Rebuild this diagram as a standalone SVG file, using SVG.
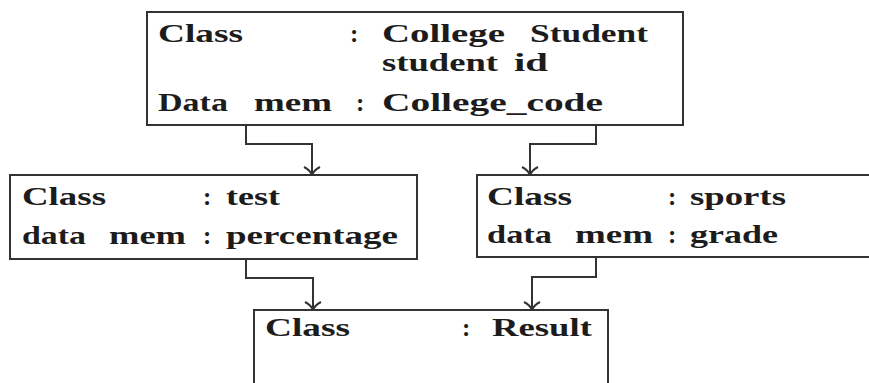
<svg xmlns="http://www.w3.org/2000/svg" width="869" height="383" viewBox="0 0 869 383">
<defs>
<style>
.box{fill:none;stroke:#333;stroke-width:2}
.t{font-family:"Liberation Serif","Times New Roman",serif;font-weight:bold;font-size:25px;fill:#1c1c1c}
.c{fill:none;stroke:#333;stroke-width:2}
</style>
<marker id="arr" viewBox="0 0 10 20" refX="9" refY="10" markerWidth="10" markerHeight="20" markerUnits="userSpaceOnUse" orient="auto">
<path d="M1,2 Q4,8 9,10 Q4,12 1,18" fill="none" stroke="#333" stroke-width="2"/>
</marker>
</defs>
<rect width="869" height="383" fill="#ffffff"/>
<g id="college-student">
<rect class="box" x="147" y="12" width="536" height="113"/>
<text class="t" x="158" y="42" textLength="85" lengthAdjust="spacingAndGlyphs">Class</text>
<text class="t" x="350" y="42">:</text>
<text class="t" x="382" y="42" textLength="123" lengthAdjust="spacingAndGlyphs">College</text>
<text class="t" x="530" y="42" textLength="118" lengthAdjust="spacingAndGlyphs">Student</text>
<text class="t" x="382" y="71" textLength="116" lengthAdjust="spacingAndGlyphs">student</text>
<text class="t" x="514" y="71" textLength="34" lengthAdjust="spacingAndGlyphs">id</text>
<text class="t" x="158" y="111" textLength="70" lengthAdjust="spacingAndGlyphs">Data</text>
<text class="t" x="254" y="111" textLength="78" lengthAdjust="spacingAndGlyphs">mem</text>
<text class="t" x="356" y="111">:</text>
<text class="t" x="382" y="111" textLength="221" lengthAdjust="spacingAndGlyphs">College_code</text>
</g>
<g id="test">
<rect class="box" x="10" y="175" width="407" height="84"/>
<text class="t" x="22" y="205" textLength="84" lengthAdjust="spacingAndGlyphs">Class</text>
<text class="t" x="203" y="205">:</text>
<text class="t" x="226" y="205" textLength="54" lengthAdjust="spacingAndGlyphs">test</text>
<text class="t" x="22" y="244" textLength="64" lengthAdjust="spacingAndGlyphs">data</text>
<text class="t" x="109" y="244" textLength="77" lengthAdjust="spacingAndGlyphs">mem</text>
<text class="t" x="203" y="244">:</text>
<text class="t" x="226" y="244" textLength="172" lengthAdjust="spacingAndGlyphs">percentage</text>
</g>
<g id="sports">
<rect class="box" x="477" y="175" width="410" height="82"/>
<text class="t" x="487" y="205" textLength="85" lengthAdjust="spacingAndGlyphs">Class</text>
<text class="t" x="668" y="205">:</text>
<text class="t" x="690" y="205" textLength="96" lengthAdjust="spacingAndGlyphs">sports</text>
<text class="t" x="487" y="243" textLength="65" lengthAdjust="spacingAndGlyphs">data</text>
<text class="t" x="575" y="243" textLength="78" lengthAdjust="spacingAndGlyphs">mem</text>
<text class="t" x="668" y="243">:</text>
<text class="t" x="690" y="243" textLength="88" lengthAdjust="spacingAndGlyphs">grade</text>
</g>
<g id="result">
<rect class="box" x="254" y="310" width="354" height="90"/>
<text class="t" x="265" y="336" textLength="85" lengthAdjust="spacingAndGlyphs">Class</text>
<text class="t" x="462" y="336">:</text>
<text class="t" x="492" y="336" textLength="100" lengthAdjust="spacingAndGlyphs">Result</text>
</g>
<g id="connectors">
<path class="c" d="M246,125 V144 H312 V175" marker-end="url(#arr)"/>
<path class="c" d="M596,125 V144 H530 V175" marker-end="url(#arr)"/>
<path class="c" d="M246,259 V278 H313 V310" marker-end="url(#arr)"/>
<path class="c" d="M596,257 V277 H532 V310" marker-end="url(#arr)"/>
</g>
</svg>
